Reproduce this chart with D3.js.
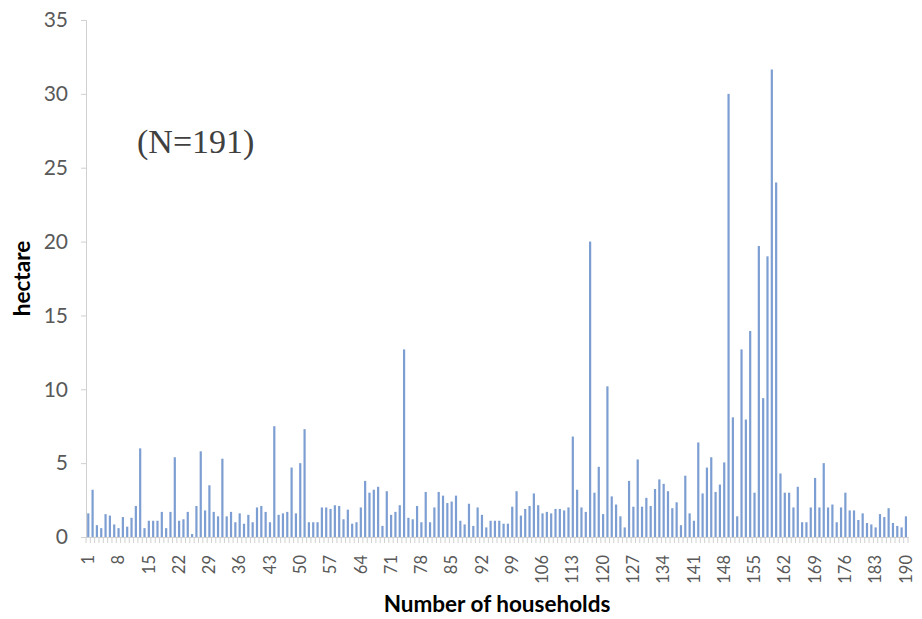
<!DOCTYPE html>
<html lang="en">
<head>
<meta charset="utf-8">
<title>Land per household</title>
<script src="https://d3js.org/d3.v7.min.js"></script>
<style>
  body { margin: 0; background: #fff; }
  .tick text { fill: #595959; }
  .axis-title { font-family: Lato, "Open Sans", sans-serif; font-weight: bold; fill: #000; }
</style>
</head>
<body>
<div id="chart"></div>
<script>
var width = 922, height = 619;

// area (hectare) per household
var hectares = [
  1.6, 3.2, 0.8, 0.6, 1.55, 1.45, 0.85, 0.6, 1.35, 0.7,
  1.3, 2.1, 6.0, 0.6, 1.1, 1.1, 1.1, 1.7, 0.6, 1.7,
  5.4, 1.1, 1.2, 1.7, 0.2, 2.1, 5.8, 1.8, 3.5, 1.7,
  1.4, 5.3, 1.4, 1.7, 1.0, 1.6, 0.9, 1.5, 1.0, 2.0,
  2.1, 1.7, 1.0, 7.5, 1.5, 1.6, 1.7, 4.7, 1.6, 5.0,
  7.3, 1.0, 1.0, 1.0, 2.0, 2.0, 1.9, 2.15, 2.1, 1.2,
  1.85, 0.9, 1.0, 2.0, 3.8, 3.0, 3.2, 3.4, 0.75, 3.1,
  1.5, 1.7, 2.15, 12.7, 1.3, 1.2, 2.1, 1.0, 3.05, 1.0,
  2.0, 3.05, 2.8, 2.3, 2.4, 2.8, 1.1, 0.85, 2.25, 0.75,
  2.0, 1.5, 0.65, 1.1, 1.1, 1.1, 0.9, 0.9, 2.05, 3.1,
  1.45, 1.9, 2.1, 2.95, 2.15, 1.6, 1.7, 1.6, 1.9, 1.9,
  1.8, 2.0, 6.8, 3.2, 2.0, 1.7, 20.0, 3.0, 4.75, 1.55,
  10.2, 2.75, 2.2, 1.4, 0.65, 3.8, 2.05, 5.25, 2.05, 2.65,
  2.1, 3.25, 3.9, 3.6, 3.1, 1.95, 2.35, 0.8, 4.15, 1.6,
  1.1, 6.4, 2.95, 4.7, 5.4, 3.05, 3.55, 5.05, 30.0, 8.1,
  1.4, 12.7, 7.95, 13.95, 3.0, 19.7, 9.4, 19.0, 31.65, 24.0,
  4.3, 3.0, 3.0, 2.0, 3.4, 1.0, 1.0, 2.0, 4.0, 2.0,
  5.0, 2.0, 2.2, 1.0, 2.0, 3.0, 1.8, 1.8, 1.15, 1.6,
  0.95, 0.85, 0.65, 1.55, 1.35, 1.95, 0.95, 0.75, 0.65, 1.4
];
var households = hectares.map(function(d, i){ return i + 1; });
var xLabels = households.filter(function(d){ return (d - 1) % 7 === 0; });
var yTicks = [0, 5, 10, 15, 20, 25, 30, 35];
var annotation = "(N=191)";

var margin = {left: 86, right: 14, top: 20, bottom: 82};

var svg = d3.select("#chart").append("svg")
    .attr("width", width)
    .attr("height", height);

var x = d3.scaleBand()
    .domain(households)
    .range([margin.left, width - margin.right]);

var y = d3.scaleLinear()
    .domain([0, 35])
    .range([height - margin.bottom, margin.top]);

// y axis
var yAxis = svg.append("g")
    .attr("transform", "translate(" + margin.left + ",0)")
    .call(d3.axisLeft(y).tickValues(yTicks).tickSize(5).tickPadding(13));
yAxis.select(".domain").attr("stroke", "#d0d0d0");
yAxis.selectAll(".tick line").attr("stroke", "#d0d0d0");
yAxis.selectAll(".tick text")
    .style("font-family", "Lato, 'Open Sans', sans-serif")
    .style("font-size", "21px");

// category tick marks (boundaries)
var bounds = households.map(function(d){ return x(d); }).concat([x(households[households.length - 1]) + x.bandwidth()]);
svg.append("g").selectAll("line")
    .data(bounds)
    .enter()
    .append("line")
    .attr("x1", function(d){ return d; })
    .attr("x2", function(d){ return d; })
    .attr("y1", y(0))
    .attr("y2", y(0) + 6)
    .attr("stroke", "#d0d0d0");

// x axis
var xAxis = svg.append("g")
    .attr("transform", "translate(0," + y(0) + ")")
    .call(d3.axisBottom(x).tickValues(xLabels).tickSize(0).tickPadding(0));
xAxis.select(".domain").attr("stroke", "#d0d0d0");
xAxis.selectAll(".tick text")
    .style("font-family", "Lato, 'Open Sans', sans-serif")
    .style("font-size", "16.5px")
    .attr("transform", "rotate(-90)")
    .attr("text-anchor", "end")
    .attr("x", -18)
    .attr("y", 0)
    .attr("dy", "0.35em");

// bars
svg.append("g").selectAll("rect")
    .data(hectares)
    .enter()
    .append("rect")
    .attr("x", function(d, i){ return x(households[i]) + x.bandwidth() / 2 - 1; })
    .attr("width", 2.2)
    .attr("y", function(d){ return y(d); })
    .attr("height", function(d){ return y(0) - y(d); })
    .attr("fill", "#7d9ed2");

// axis titles
svg.append("text")
    .attr("class", "axis-title")
    .attr("x", (margin.left + width - margin.right) / 2)
    .attr("y", 612)
    .attr("text-anchor", "middle")
    .style("font-size", "22.5px")
    .text("Number of households");

svg.append("text")
    .attr("class", "axis-title")
    .attr("transform", "translate(30," + ((margin.top + y(0)) / 2) + ") rotate(-90)")
    .attr("text-anchor", "middle")
    .style("font-size", "22.5px")
    .text("hectare");

// annotation
svg.append("text")
    .attr("x", 137)
    .attr("y", 153)
    .style("font-family", "'Liberation Serif', 'DejaVu Serif', serif")
    .style("font-size", "34px")
    .attr("fill", "#404040")
    .text(annotation);
</script>
</body>
</html>
